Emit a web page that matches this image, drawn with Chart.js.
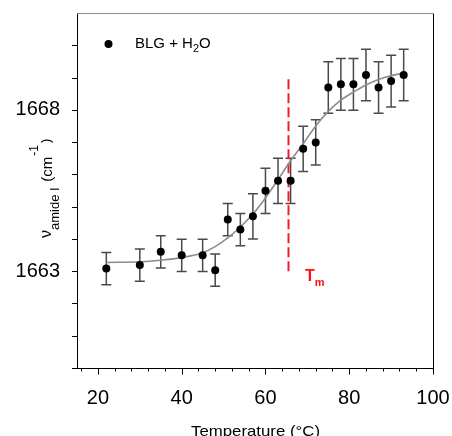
<!DOCTYPE html>
<html><head><meta charset="utf-8">
<script src="https://cdn.jsdelivr.net/npm/chart.js@4.4.0/dist/chart.umd.min.js"></script>
<style>html,body{margin:0;padding:0;background:#fff;}canvas{display:block;}</style>
</head><body>
<canvas id="c" width="452" height="436"></canvas>
<script>
// ---- data ----
const temperature = [22,30,35,40,45,48,51,54,57,60,63,66,69,72,75,78,81,84,87,90,93];
const amideI = [1663.08,1663.19,1663.60,1663.49,1663.49,1663.03,1664.60,1664.29,1664.70,1665.49,1665.80,1665.80,1666.79,1666.99,1668.69,1668.79,1668.79,1669.08,1668.69,1668.89,1669.08];
const amideErr = [0.5,0.5,0.5,0.5,0.5,0.5,0.5,0.5,0.7,0.7,0.7,0.7,0.7,0.7,0.8,0.8,0.8,0.8,0.8,0.8,0.8];
const fitTemperature = [22,30,35,40,45,48,51,54,57,60,63,66,69,72,75,78,81,84,87,90,93];
const fitAmideI = [1663.27,1663.29,1663.34,1663.42,1663.57,1663.76,1664.03,1664.37,1664.77,1665.27,1665.84,1666.42,1666.95,1667.50,1667.95,1668.30,1668.55,1668.77,1668.94,1669.06,1669.14];
const tmTemperature = 65.5;
const tmRange = [1663, 1669];
const xMajorTicks = [20,40,60,80,100];
const xMinorTicks = [16,24,28,32,36,44,48,52,56,64,68,72,76,84,88,92,96];
const yMinorTicks = [1660,1661,1662,1663,1664,1665,1666,1667,1668,1669,1670];
const yTickLabels = [1663,1668];
const seriesLabel = ['BLG + H', '2', 'O'];
const xTitle = 'Temperature (°C)';

const FONT = '"Liberation Sans", Arial, sans-serif';

const decor = {
  id: 'decor',
  beforeDatasetsDraw(chart) {
    const {ctx, scales: {x, y}} = chart;
    ctx.save();
    ctx.strokeStyle = '#4a4a4a';
    ctx.lineWidth = 1.5;
    temperature.forEach((t, i) => {
      const px = x.getPixelForValue(t);
      const top = y.getPixelForValue(amideI[i] + amideErr[i]);
      const bot = y.getPixelForValue(amideI[i] - amideErr[i]);
      ctx.beginPath();
      ctx.moveTo(px, top); ctx.lineTo(px, bot);
      ctx.moveTo(px - 5, top); ctx.lineTo(px + 5, top);
      ctx.moveTo(px - 5, bot); ctx.lineTo(px + 5, bot);
      ctx.stroke();
    });
    ctx.restore();
  },
  afterDraw(chart) {
    const {ctx, chartArea: a, scales: {x, y}} = chart;
    ctx.save();
    // frame
    ctx.lineWidth = 1;
    ctx.strokeStyle = '#000';
    ctx.beginPath();
    ctx.moveTo(a.left + 0.5, a.top); ctx.lineTo(a.left + 0.5, a.bottom + 0.5);
    ctx.moveTo(a.left - 2, a.bottom + 0.5); ctx.lineTo(a.right + 0.5, a.bottom + 0.5);
    ctx.moveTo(a.right + 0.5, a.top); ctx.lineTo(a.right + 0.5, a.bottom + 0.5);
    ctx.stroke();
    ctx.strokeStyle = '#8a8a8a';
    ctx.beginPath();
    ctx.moveTo(a.left, a.top + 0.5); ctx.lineTo(a.right + 1, a.top + 0.5);
    ctx.stroke();
    // ticks
    ctx.strokeStyle = '#000';
    ctx.beginPath();
    xMinorTicks.forEach(v => { const p = Math.round(x.getPixelForValue(v)) + 0.5; ctx.moveTo(p, a.bottom); ctx.lineTo(p, a.bottom + 3.5); });
    xMajorTicks.forEach(v => { const p = Math.round(x.getPixelForValue(v)) + 0.5; ctx.moveTo(p, a.bottom); ctx.lineTo(p, a.bottom + 6.5); });
    yMinorTicks.forEach(v => { const p = Math.round(y.getPixelForValue(v)) + 0.5; ctx.moveTo(a.left, p); ctx.lineTo(a.left - 5, p); });
    ctx.stroke();
    // legend
    ctx.fillStyle = '#000';
    ctx.beginPath(); ctx.arc(108.5, 44, 4, 0, Math.PI * 2); ctx.fill();
    ctx.textBaseline = 'alphabetic'; ctx.textAlign = 'left';
    let cx = 135;
    ctx.font = '15px ' + FONT; ctx.fillText(seriesLabel[0], cx, 47.5); cx += ctx.measureText(seriesLabel[0]).width;
    ctx.font = '11px ' + FONT; ctx.fillText(seriesLabel[1], cx, 52); cx += ctx.measureText(seriesLabel[1]).width;
    ctx.font = '15px ' + FONT; ctx.fillText(seriesLabel[2], cx, 47.5);
    // Tm label
    ctx.fillStyle = '#ff1010';
    ctx.font = 'bold 16px ' + FONT; ctx.fillText('T', 305, 281);
    let tw = ctx.measureText('T').width;
    ctx.font = 'bold 11px ' + FONT; ctx.fillText('m', 305 + tw, 285.5);
    // x title (slightly widened like the reference)
    ctx.fillStyle = '#000';
    ctx.save();
    ctx.translate(255.5, 436); ctx.scale(1.12, 1);
    ctx.font = '15px ' + FONT; ctx.textAlign = 'center';
    ctx.fillText(xTitle, 0, 0);
    ctx.restore();
    // y title (rotated)
    ctx.translate(51, 238); ctx.rotate(-Math.PI / 2);
    ctx.textAlign = 'left';
    let rx = 0;
    ctx.font = '16px ' + FONT; ctx.fillText('\u03BD', rx, 0); rx += ctx.measureText('\u03BD').width;
    ctx.font = '13px ' + FONT; ctx.fillText('amide I', rx, 8); rx += ctx.measureText('amide I ').width + 2;
    ctx.font = '15px ' + FONT; ctx.fillText('(cm', rx, 1); rx += ctx.measureText('(cm').width + 1;
    ctx.font = '12px ' + FONT; ctx.fillText('-1', rx, -13); rx += ctx.measureText('-1').width + 2;
    ctx.font = '13px ' + FONT; ctx.fillText(')', rx, -1);
    ctx.restore();
  }
};

new Chart(document.getElementById('c'), {
  type: 'scatter',
  data: {
    datasets: [
      {
        label: 'BLG + H2O',
        data: temperature.map((t, i) => ({x: t, y: amideI[i]})),
        pointRadius: 4, pointBackgroundColor: '#000', pointBorderWidth: 0,
        order: 0
      },
      {
        label: 'fit',
        data: fitTemperature.map((t, i) => ({x: t, y: fitAmideI[i]})),
        showLine: true, borderColor: '#8c8c8c', borderWidth: 1.6,
        pointRadius: 0, cubicInterpolationMode: 'monotone',
        order: 1
      },
      {
        label: 'Tm',
        data: tmRange.map(v => ({x: tmTemperature, y: v})),
        showLine: true, borderColor: '#ee1c24', borderWidth: 2, borderDash: [10, 4],
        pointRadius: 0,
        order: 2
      }
    ]
  },
  options: {
    responsive: false, animation: false, devicePixelRatio: 1,
    layout: {padding: {left: 0, top: 13, right: 19, bottom: 0}},
    plugins: {legend: {display: false}, tooltip: {enabled: false}},
    scales: {
      x: {
        type: 'linear', min: 15, max: 100,
        afterBuildTicks: s => { s.ticks = xMajorTicks.map(v => ({value: v})); },
        afterFit: s => { s.height = 68; s.paddingLeft = 0; s.paddingRight = 0; },
        grid: {display: false, drawTicks: false}, border: {display: false},
        ticks: {color: '#000', font: {family: FONT, size: 20}, padding: 18, maxRotation: 0, autoSkip: false,
                callback: v => String(v)}
      },
      y: {
        type: 'linear', min: 1660, max: 1671,
        afterBuildTicks: s => { s.ticks = yTickLabels.map(v => ({value: v})); },
        afterFit: s => { s.width = 77; s.paddingTop = 0; s.paddingBottom = 0; },
        grid: {display: false, drawTicks: false}, border: {display: false},
        ticks: {color: '#000', font: {family: FONT, size: 20}, padding: 17, autoSkip: false,
                callback: v => String(v)}
      }
    }
  },
  plugins: [decor]
});
</script>
</body></html>
